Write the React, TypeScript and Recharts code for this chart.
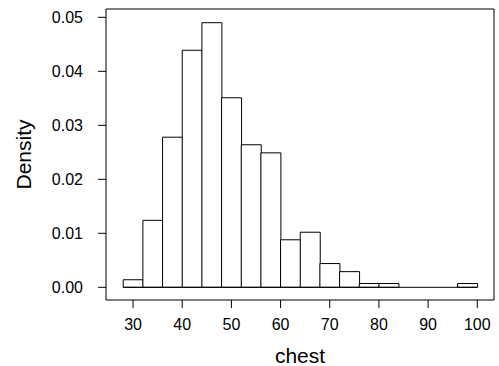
import {
  ComposedChart,
  Bar,
  XAxis,
  YAxis,
  ReferenceArea,
  ReferenceLine,
} from "recharts";

// histogram bins: width 4, from 28 to 100 (midpoints)
const binMids = [30, 34, 38, 42, 46, 50, 54, 58, 62, 66, 70, 74, 78, 82, 86, 90, 94, 98];
const densities = [
  0.0014, 0.0124, 0.0278, 0.0439, 0.049, 0.0351, 0.0264, 0.0249, 0.0088,
  0.0102, 0.0044, 0.0029, 0.0007, 0.0007, 0, 0, 0, 0.0007,
];
const xTicks = [30, 40, 50, 60, 70, 80, 90, 100];
const yTicks = [0, 0.01, 0.02, 0.03, 0.04, 0.05];

const xDomain: [number, number] = [24.5, 103.4];
const yDomain: [number, number] = [-0.00235, 0.05154];

const FONT = '"Liberation Sans", Arial, sans-serif';

export default function App() {
  const data = binMids.map((mid, i) => ({ mid, density: densities[i] }));

  return (
    <div style={{ position: "absolute", left: 0, top: 0, background: "#fff" }}>
      <ComposedChart
        width={499}
        height={366}
        data={data}
        margin={{ top: 9, right: 5, left: 0, bottom: 0 }}
        barCategoryGap={0}
        style={{ fontFamily: FONT }}
      >
        <XAxis
          dataKey="mid"
          type="number"
          domain={xDomain}
          allowDataOverflow
          ticks={xTicks}
          interval={0}
          height={66}
          axisLine={false}
          tickSize={8}
          tickMargin={11}
          tickLine={{ stroke: "#000" }}
          tick={{ fontSize: 16, fill: "#000" }}
          label={{
            value: "chest",
            position: "insideBottom",
            offset: 3,
            style: { fontSize: 21, fill: "#000" },
          }}
        />
        <YAxis
          type="number"
          domain={yDomain}
          allowDataOverflow
          ticks={yTicks}
          interval={0}
          width={106}
          axisLine={false}
          tickSize={8}
          tickMargin={15}
          tickLine={{ stroke: "#000" }}
          tick={{ fontSize: 16, fill: "#000" }}
          tickFormatter={(v) => Number(v).toFixed(2)}
          label={{
            value: "Density",
            angle: -90,
            position: "insideLeft",
            offset: 23.5,
            style: { fontSize: 21, fill: "#000", textAnchor: "middle" },
          }}
        />
        <ReferenceArea
          x1={xDomain[0]}
          x2={xDomain[1]}
          y1={yDomain[0]}
          y2={yDomain[1]}
          fill="none"
          stroke="#000"
          strokeWidth={1}
          ifOverflow="visible"
        />
        <ReferenceLine
          segment={[
            { x: 28, y: 0 },
            { x: 100, y: 0 },
          ]}
          stroke="#000"
          strokeWidth={1}
        />
        <Bar
          dataKey="density"
          fill="#fff"
          stroke="#000"
          strokeWidth={1}
          isAnimationActive={false}
        />
      </ComposedChart>
    </div>
  );
}
